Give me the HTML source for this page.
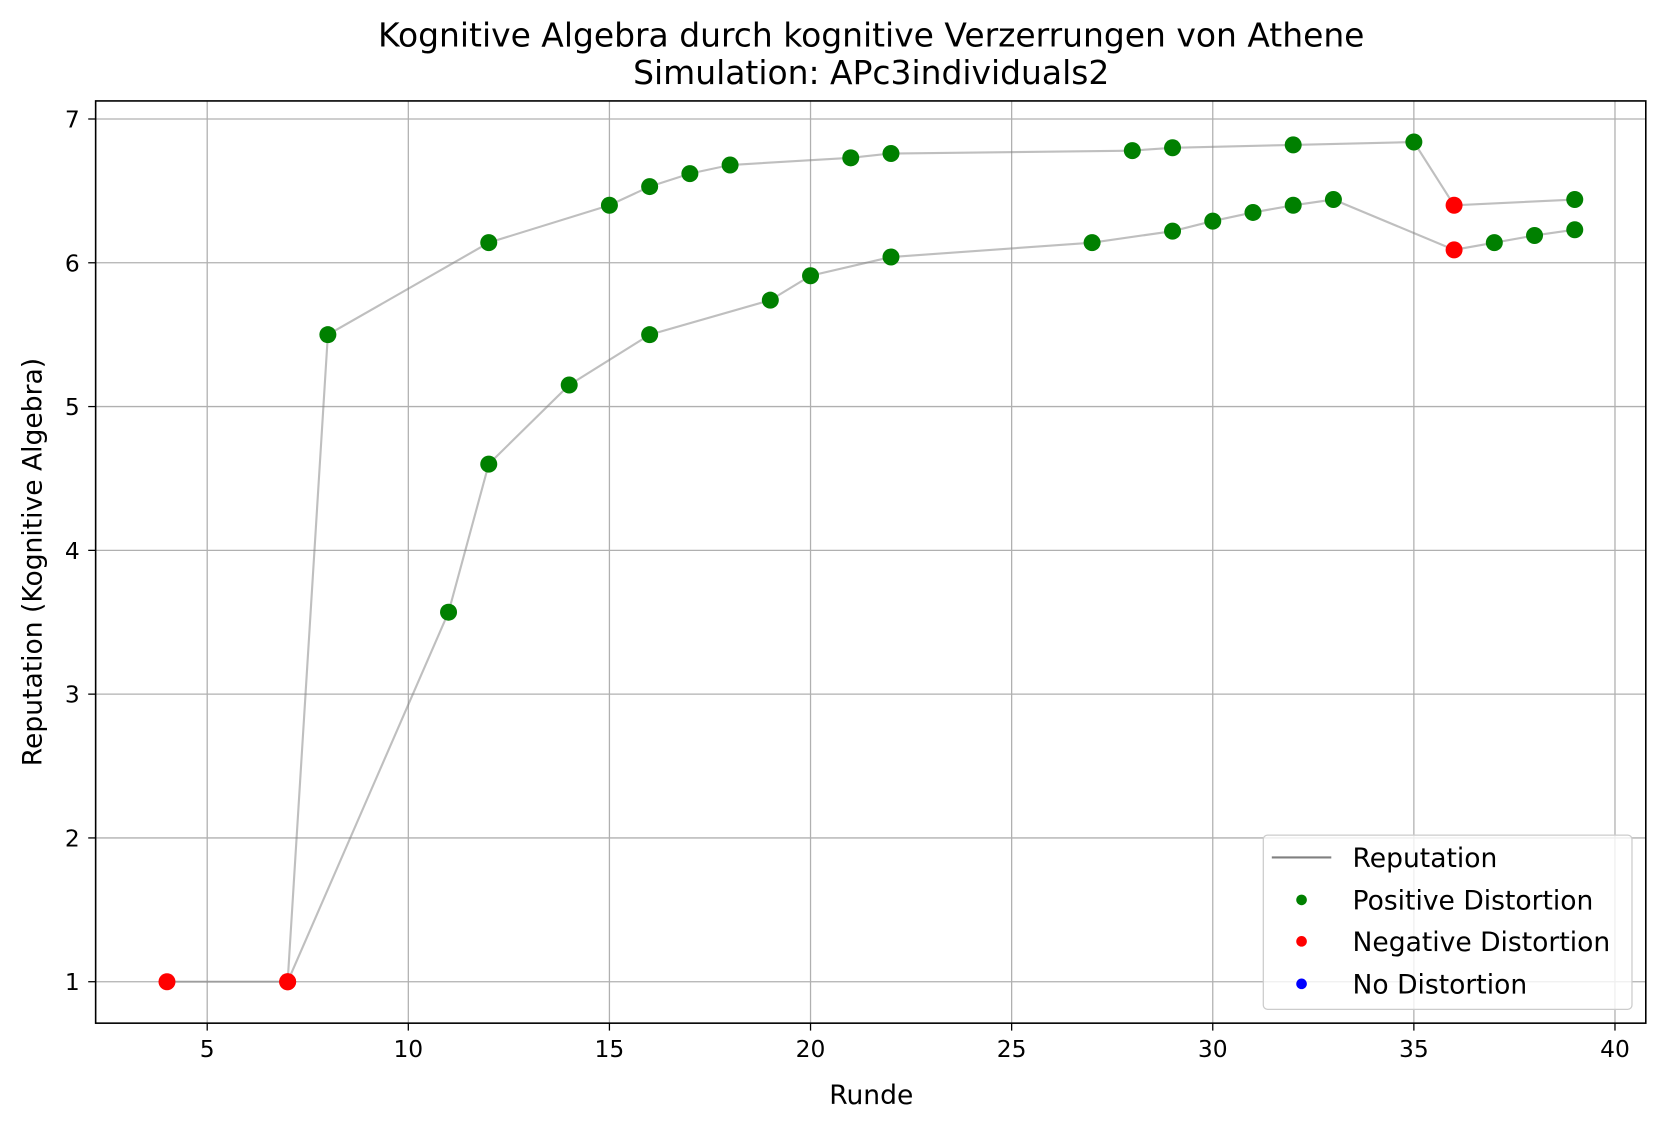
<!DOCTYPE html>
<html><head><meta charset="utf-8"><style>
body{margin:0;background:#fff;}
svg{display:block;font-family:"DejaVu Sans","Liberation Sans",sans-serif;}
</style></head><body>
<svg id="chart" width="1666" height="1131" viewBox="0 0 1568 1064.5">
<rect width="1568" height="1065" fill="#fff"/>
<g id="grid"></g>
<g id="lines"></g>
<g id="points"></g>
<rect x="90" y="95" width="1459" height="868" fill="none" stroke="#000" stroke-width="1.5"/>
<g id="ticks"></g>
<text x="820" y="44" font-size="31" text-anchor="middle">Kognitive Algebra durch kognitive Verzerrungen von Athene</text>
<text x="820" y="79" font-size="31" text-anchor="middle">Simulation: APc3individuals2</text>
<text x="820" y="1039" font-size="25" text-anchor="middle">Runde</text>
<text transform="translate(39,529) rotate(-90)" font-size="25" text-anchor="middle">Reputation (Kognitive Algebra)</text>
<g>
<rect x="1189" y="786" width="347" height="164" rx="4" fill="#fff" fill-opacity="0.8" stroke="#ccc" stroke-width="1.2"/>
<line x1="1197" y1="807" x2="1253" y2="807" stroke="#808080" stroke-width="2"/>
<text x="1273" y="816" font-size="25">Reputation</text>
<circle cx="1225" cy="847" r="5" fill="green"/>
<text x="1273" y="856" font-size="25">Positive Distortion</text>
<circle cx="1225" cy="886" r="5" fill="red"/>
<text x="1273" y="895" font-size="25">Negative Distortion</text>
<circle cx="1225" cy="926" r="5" fill="blue"/>
<text x="1273" y="935" font-size="25">No Distortion</text>
</g>
</svg>
<script>
const xTicks=[5,10,15,20,25,30,35,40];
const yTicks=[1,2,3,4,5,6,7];
const roundsA=[4,7,8,12,15,16,17,18,21,22,28,29,32,35,36,39];
const valuesA=[1,1,5.5,6.14,6.4,6.53,6.62,6.68,6.73,6.76,6.78,6.8,6.82,6.84,6.4,6.44];
const typesA=['n','n','p','p','p','p','p','p','p','p','p','p','p','p','n','p'];
const roundsB=[7,11,12,14,16,19,20,22,27,29,30,31,32,33,36,37,38,39];
const valuesB=[1,3.57,4.6,5.15,5.5,5.74,5.91,6.04,6.14,6.22,6.29,6.35,6.4,6.44,6.09,6.14,6.19,6.23];
const typesB=['n','p','p','p','p','p','p','p','p','p','p','p','p','p','n','p','p','p'];
const X=v=>195+(v-5)*(1520-195)/35;
const Y=v=>924-(v-1)*(924-112)/6;
const NS='http://www.w3.org/2000/svg';
function mk(tag,attrs,parent){const e=document.createElementNS(NS,tag);for(const k in attrs)e.setAttribute(k,attrs[k]);parent.appendChild(e);return e;}
const grid=document.getElementById('grid'),ticks=document.getElementById('ticks');
xTicks.forEach(t=>{
  const g=mk('line',{x1:X(t),x2:X(t),y1:95,y2:963,stroke:'#b0b0b0','stroke-width':1.2},grid);
  
  
  const tk=mk('line',{x1:X(t),x2:X(t),y1:963,y2:970,stroke:'#000','stroke-width':1.2},ticks);
  
  
  const tx=mk('text',{x:X(t),y:995,'font-size':22,'text-anchor':'middle'},ticks);
  tx.textContent=t;
  
  
});
yTicks.forEach(t=>{
  const g=mk('line',{x1:90,x2:1549,y1:Y(t),y2:Y(t),stroke:'#b0b0b0','stroke-width':1.2},grid);
  
  
  const tk=mk('line',{x1:83,x2:90,y1:Y(t),y2:Y(t),stroke:'#000','stroke-width':1.2},ticks);
  
  
  const tx=mk('text',{x:75,y:Y(t)+8,'font-size':22,'text-anchor':'end'},ticks);
  tx.textContent=t;
  
  
});
const lines=document.getElementById('lines'),pts=document.getElementById('points');
[[roundsA,valuesA,typesA,'a'],[roundsB,valuesB,typesB,'b']].forEach(([r,v,ty,n])=>{
  const pl=mk('polyline',{points:r.map((x,i)=>X(x)+','+Y(v[i])).join(' '),fill:'none',stroke:'#808080','stroke-opacity':0.5,'stroke-width':2},lines);
  
  
  r.forEach((x,i)=>{
    const c=mk('circle',{cx:X(x),cy:Y(v[i]),r:8,fill:ty[i]==='p'?'green':(ty[i]==='n'?'red':'blue')},pts);
    
    
  });
});
</script>
</body></html>
